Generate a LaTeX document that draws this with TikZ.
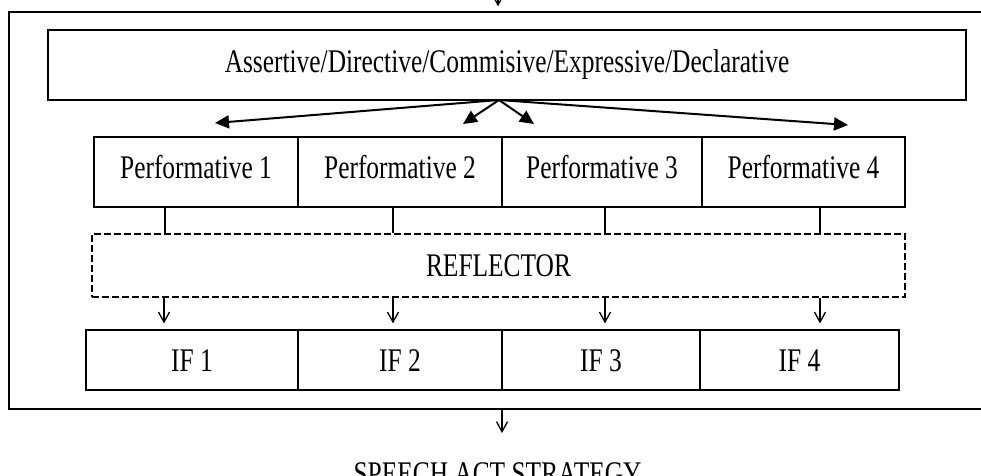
\documentclass[tikz,border=0pt]{standalone}
\usepackage{fontspec}
\setmainfont{Liberation Serif}[FakeStretch=0.77]
\usetikzlibrary{arrows.meta}
\begin{document}
\begin{tikzpicture}[x=1pt,y=-1pt,
  cell/.style={draw, line width=1.2pt, rectangle, inner sep=0pt, font=\fontsize{33}{36}\selectfont},
  perfcell/.style={cell, minimum height=70pt, text height=22pt, text depth=10pt},
  ifcell/.style={cell, minimum height=60pt, text height=22pt, text depth=0pt},
  bigarrow/.style={line width=2pt, -{Triangle[length=14pt,width=13pt]}},
  smallarrow/.style={line width=1.3pt, -{Straight Barb[length=10pt,width=11pt]}},
  stub/.style={line width=1.3pt}]
\useasboundingbox (0,0) rectangle (981,475);

% outer frame (right side runs off the page)
\node[draw, line width=1.4pt, rectangle, inner sep=0pt, minimum width=981pt, minimum height=397pt] (outer) at (499.5,210.5) {};

% top box
\node[cell, minimum width=918pt, minimum height=70pt, text height=22pt, text depth=8pt] (top) at (507,65) {Assertive/Directive/Commisive/Expressive/Declarative};

% performative row
\node[perfcell, minimum width=204pt] (p1) at (196,172) {Performative 1};
\node[perfcell, minimum width=204pt] (p2) at (400,172) {Performative 2};
\node[perfcell, minimum width=200pt] (p3) at (602,172) {Performative 3};
\node[perfcell, minimum width=203pt] (p4) at (803.5,172) {Performative 4};

% reflector
\node[cell, dashed, dash pattern=on 7pt off 3pt, minimum width=813pt, minimum height=63pt, text height=22pt, text depth=0pt] (ref) at (498.5,265.5) {REFLECTOR};

% IF row
\node[ifcell, minimum width=212pt] (if1) at (192,360) {IF 1};
\node[ifcell, minimum width=204pt] (if2) at (400,360) {IF 2};
\node[ifcell, minimum width=198pt] (if3) at (601,360) {IF 3};
\node[ifcell, minimum width=199pt] (if4) at (799.5,360) {IF 4};

% bottom label
\node[inner sep=0pt, anchor=base, font=\fontsize{33}{36}\selectfont] (speech) at (497.5,484) {SPEECH ACT STRATEGY};

% arrows from top box
\coordinate (apex) at (499,100);
\coordinate (t1) at (215,123);
\coordinate (t2) at (463,124);
\coordinate (t3) at (534,124);
\coordinate (t4) at (848,125);
\draw[bigarrow] (apex) -- (t1);
\draw[bigarrow] (apex) -- (t2);
\draw[bigarrow] (apex) -- (t3);
\draw[bigarrow] (apex) -- (t4);

% stubs from performatives to reflector
\draw[stub] (p1.south -| 165,0) -- (ref.north -| 165,0);
\draw[stub] (p2.south -| 393,0) -- (ref.north -| 393,0);
\draw[stub] (p3.south -| 605,0) -- (ref.north -| 605,0);
\draw[stub] (p4.south -| 820,0) -- (ref.north -| 820,0);

% arrows from reflector to IF cells
\draw[smallarrow, shorten >=6pt] (ref.south -| 164,0) -- (if1.north -| 164,0);
\draw[smallarrow, shorten >=6pt] (ref.south -| 393,0) -- (if2.north -| 393,0);
\draw[smallarrow, shorten >=6pt] (ref.south -| 605,0) -- (if3.north -| 605,0);
\draw[smallarrow, shorten >=6pt] (ref.south -| 820,0) -- (if4.north -| 820,0);

% incoming arrow at top and outgoing arrow at bottom
\coordinate (in) at (498,-20);
\draw[smallarrow, shorten >=5pt] (in) -- (outer.north -| 498,0);
\coordinate (sa) at (502,433);
\draw[smallarrow] (outer.south -| 502,0) -- (sa);
\end{tikzpicture}
\end{document}
